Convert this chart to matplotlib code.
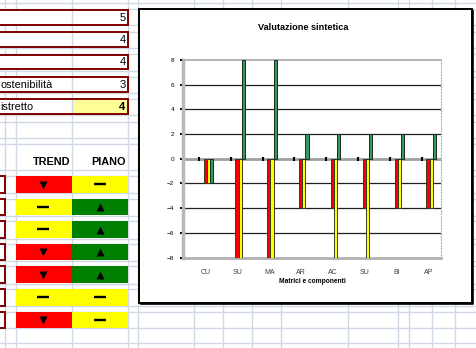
import matplotlib
matplotlib.use('Agg')
import matplotlib.pyplot as plt
from matplotlib.patches import Rectangle
import numpy as np

plt.rcParams['font.family'] = ['Liberation Sans', 'DejaVu Sans']

# chart data
categories = ['CU', 'SU', 'MA', 'AR', 'AC', 'SU', 'BI', 'AP']
red_vals = [-2, -8, -8, -4, -4, -4, -4, -4]
yellow_vals = [-2, -8, -8, -4, -8, -8, -4, -4]
green_vals = [-2, 8, 8, 2, 2, 2, 2, 2]

# sheet data
top_labels = ['', '', '', 'ostenibilità', 'istretto']
top_values = [5, 4, 4, 3, 4]
trend = ['down', 'flat', 'flat', 'down', 'down', 'flat', 'down']
piano = ['flat', 'up', 'up', 'up', 'up', 'flat', 'flat']

state_color = {'down': '#ff0000', 'flat': '#ffff00', 'up': '#008000'}
state_marker = {'down': 'v', 'flat': '_', 'up': '^'}

W, H = 477, 348
fig = plt.figure(figsize=(W / 100, H / 100), dpi=100)
bg = fig.add_axes([0, 0, 1, 1])
bg.set_xlim(0, W)
bg.set_ylim(H, 0)
bg.axis('off')

# spreadsheet grid
grid_c = '#d0d7e5'
col_x = [5.3, 15.7, 71.7, 127.7, 137.7, 194, 222.7, 251.7, 280.7, 348.3, 398.3, 409.3, 432.3, 455]
row_y = [2.5, 9, 25, 31.5, 48, 54, 70.5, 76.5, 93, 98.5, 115, 121.7, 138, 144.3, 169.6,
         175.5, 192.5, 198.5, 215.5, 221, 238.5, 243.5, 261, 266, 283.5, 288.5, 306, 311.7, 328, 342.7]
for x in col_x:
    bg.plot([x, x], [0, H], color=grid_c, lw=1.0, zorder=0)
for y in row_y:
    bg.plot([0, W], [y, y], color=grid_c, lw=1.0, zorder=0)

# top block of bordered cells
dark_red = '#800000'
top_y0 = [10, 32.3, 54.7, 77, 99.3]
for i, (lab, val) in enumerate(zip(top_labels, top_values)):
    y0 = top_y0[i]
    h = 14.5
    bg.add_patch(Rectangle((0, y0 - 1), 72, h + 2, fc='white', ec='none', zorder=1))
    if i == len(top_values) - 1:
        bg.add_patch(Rectangle((71.7, y0), 56, h, fc='#ffff99', ec='none', zorder=1))
    else:
        bg.add_patch(Rectangle((71.7, y0), 56, h, fc='white', ec='none', zorder=1))
    bg.plot([71.7, 71.7], [y0, y0 + h], color=grid_c, lw=1.0, zorder=1.5)
    bg.add_patch(Rectangle((-3, y0), 130.7, h, fc='none', ec=dark_red, lw=1.4, zorder=2))
    if lab:
        bg.text(0.5, y0 + h / 2 + 0.5, lab, fontsize=7.8, ha='left', va='center', zorder=3)
    bg.text(125.5, y0 + h / 2 + 0.5, str(val), fontsize=8, ha='right', va='center', zorder=3,
            fontweight='bold' if i == len(top_values) - 1 else 'normal')

# header
bg.text(70, 162, 'TREND', fontsize=7.8, fontweight='bold', ha='right', va='center')
bg.text(125.5, 162, 'PIANO', fontsize=7.8, fontweight='bold', ha='right', va='center')

# trend / piano cells
low_y0 = [176, 198.6, 221.2, 243.8, 266.4, 289, 311.6]
for i, (t, p) in enumerate(zip(trend, piano)):
    y0 = low_y0[i]
    h = 16.5
    bg.add_patch(Rectangle((-3, y0), 8.5, h, fc='white', ec=dark_red, lw=1.4, zorder=2))
    bg.add_patch(Rectangle((16, y0), 55.7, h, fc=state_color[t], ec='none', zorder=2))
    bg.add_patch(Rectangle((71.7, y0), 56.3, h, fc=state_color[p], ec='none', zorder=2))
    for xc, s in ((43.5, t), (100, p)):
        if s == 'flat':
            bg.plot(xc, y0 + h / 2, marker='_', ms=8.4, mew=1.7, color='black', zorder=3)
        else:
            bg.plot(xc, y0 + h / 2 + 0.3, marker=state_marker[s], ms=5.8, color='black',
                    mec='none', zorder=3)

# chart box (with a slight shadow on right and bottom)
bg.plot([141, 473, 473], [304, 304, 11], color='black', lw=1.2, zorder=3.9)
bg.add_patch(Rectangle((139.5, 9), 332.5, 294, fc='white', ec='black', lw=1.4, zorder=4))
fig.text(303 / W, 1 - 27 / H, 'Valutazione sintetica', fontsize=6.6, fontweight='bold',
         ha='center', va='center')

ax = fig.add_axes([183 / W, 1 - 257.5 / H, 258 / W, 197.5 / H])
ax.set_facecolor('white')
x = np.arange(len(categories))
bw = 0.1
ax.bar(x - 0.02, red_vals, bw, color='#ff0000', edgecolor='#3a3a1a', lw=0.7, zorder=3)
ax.bar(x + 0.08, yellow_vals, bw, color='#ffff00', edgecolor='#3a3a1a', lw=0.7, zorder=3)
ax.bar(x + 0.18, green_vals, bw, color='#339966', edgecolor='#1a2a1a', lw=0.7, zorder=3)

ax.set_xlim(-0.72, 7.39)
ax.set_ylim(-8, 8)
ax.set_yticks(np.arange(-8, 9, 2))
for v in [-6, -4, -2, 2, 4, 6]:
    ax.axhline(v, color='#202020', lw=0.9, zorder=1)
ax.axhline(0, color='#a0a0a0', lw=2.0, zorder=2)
ax.plot(x - 0.22, np.zeros(len(x)), ls='none', marker='|', ms=3.5, mew=1.5, color='black', zorder=4)

ax.set_xticks(x)
ax.set_xticklabels(categories)
ax.tick_params(axis='x', length=0, pad=8, labelsize=5, labelcolor='#404040')
ax.tick_params(axis='y', length=2.5, width=1.5, color='black', pad=4, labelsize=4.6, direction='out')
ax.set_xlabel('Matrici e componenti', fontsize=4.8, fontweight='bold', labelpad=2)

ax.spines['left'].set_color('#b8b8b8')
ax.spines['left'].set_linewidth(2.5)
ax.spines['bottom'].set_color('#b0b0b0')
ax.spines['bottom'].set_linewidth(2.0)
ax.spines['top'].set_color('#a8a8a8')
ax.spines['top'].set_linewidth(1.2)
ax.spines['right'].set_color('#b0b0b0')
ax.spines['right'].set_linestyle(':')
ax.spines['right'].set_linewidth(0.8)

fig.savefig('out.png', dpi=100)
